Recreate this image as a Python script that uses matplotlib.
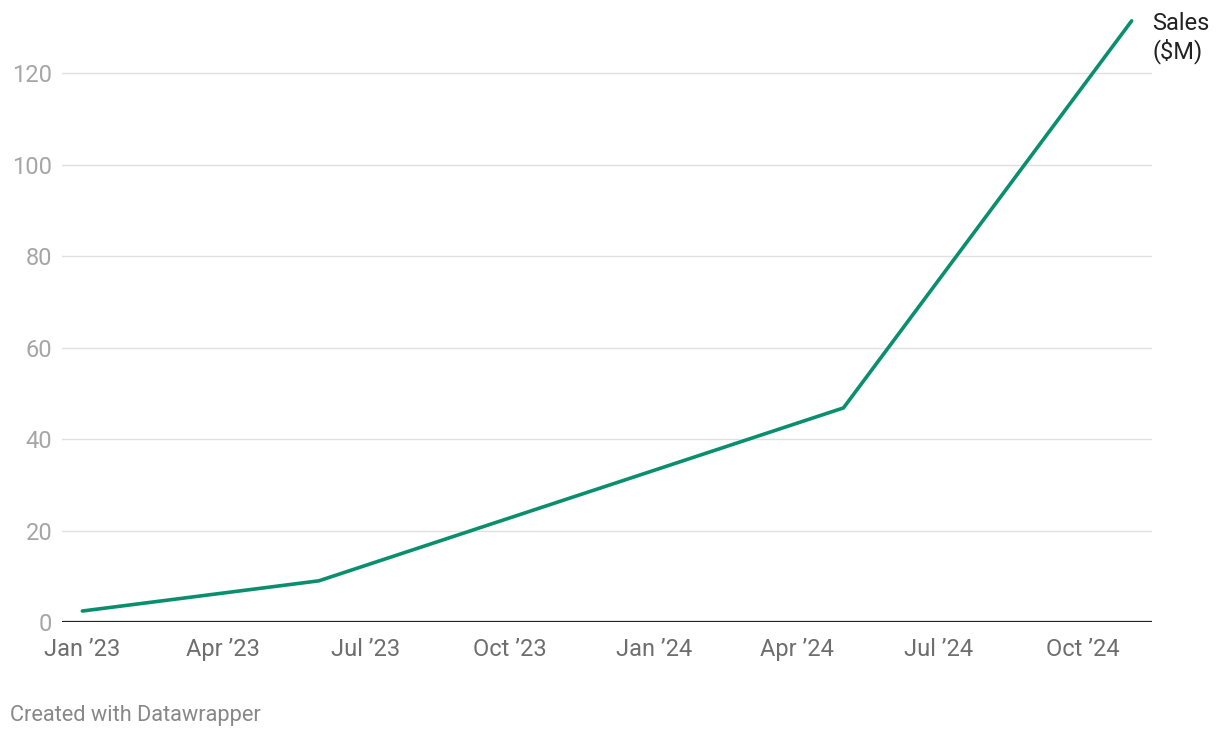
import matplotlib.pyplot as plt
import datetime

plt.rcParams['font.family'] = ['Roboto', 'DejaVu Sans']

# data
dates = [datetime.date(2023, 1, 1), datetime.date(2023, 6, 1),
         datetime.date(2024, 5, 1), datetime.date(2024, 11, 1)]
sales = [2.4, 9.0, 46.8, 131.4]

y_ticks = [0, 20, 40, 60, 80, 100, 120]
x_ticks = [datetime.date(2023, 1, 1), datetime.date(2023, 4, 1), datetime.date(2023, 7, 1),
           datetime.date(2023, 10, 1), datetime.date(2024, 1, 1), datetime.date(2024, 4, 1),
           datetime.date(2024, 7, 1), datetime.date(2024, 10, 1)]
x_labels = ['Jan \u201923', 'Apr \u201923', 'Jul \u201923', 'Oct \u201923',
            'Jan \u201924', 'Apr \u201924', 'Jul \u201924', 'Oct \u201924']

fig = plt.figure(figsize=(12.2, 7.38), dpi=100)
ax = fig.add_axes([62 / 1220, 116 / 738, 1090 / 1220, 617.6 / 738])

ax.plot(dates, sales, color='#0a8f6e', linewidth=2.6, solid_capstyle='round',
        solid_joinstyle='miter', zorder=3)

ax.set_xlim(datetime.date(2022, 12, 19), datetime.date(2024, 11, 14))
ax.set_ylim(0, 135)

ax.set_yticks(y_ticks)
ax.set_yticklabels([str(v) for v in y_ticks])
ax.set_xticks(x_ticks)
ax.set_xticklabels(x_labels)

for v in y_ticks[1:]:
    ax.axhline(v, color='#e0e0e0', linewidth=1, zorder=1)
ax.axhline(0, color='#222222', linewidth=1.6, zorder=2)

for s in ax.spines.values():
    s.set_visible(False)
ax.tick_params(axis='y', length=0, pad=7, labelsize=17, labelcolor='#a6a6a6')
ax.tick_params(axis='x', length=0, pad=11.5, labelsize=17, labelcolor='#6e6e6e')

# series label next to the line end
ax.text(1.0, 127.7, 'Sales\n($M)', transform=ax.get_yaxis_transform(),
        fontsize=17, color='#222222', ha='left', va='center',
        linespacing=1.2, clip_on=False)
fig.text(10 / 1220, 1 - 715 / 738, 'Created with Datawrapper', fontsize=15.7,
         color='#888888', ha='left', va='center')

fig.savefig('out.png', dpi=100, facecolor='white')
